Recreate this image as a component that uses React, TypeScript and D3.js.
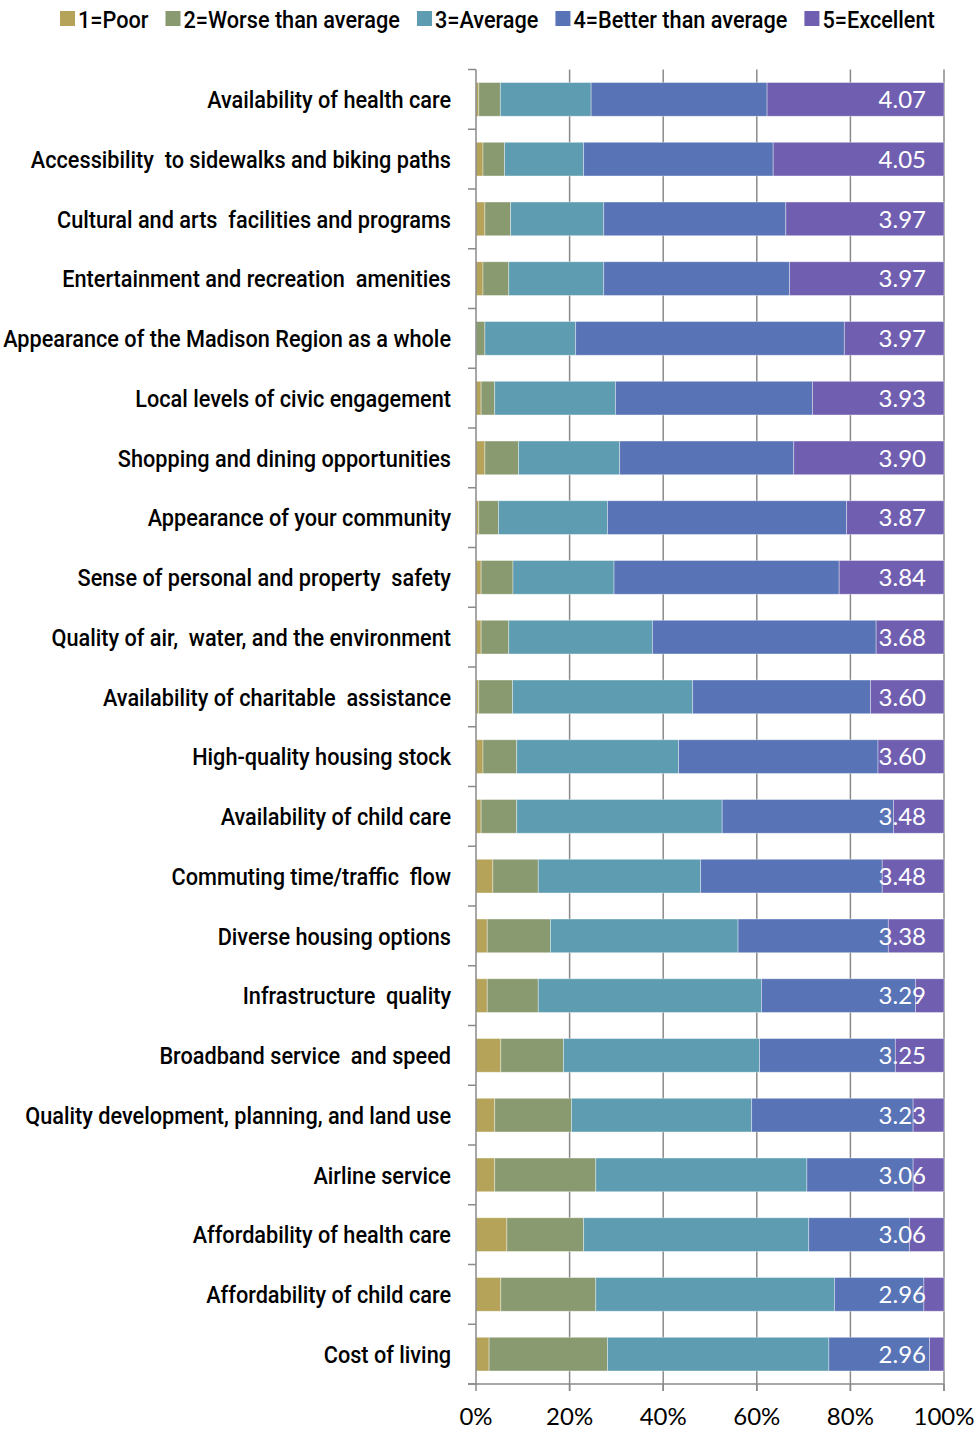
import React, { useEffect, useRef } from "react";
import * as d3 from "d3";

const categories = [
  "Availability of health care",
  "Accessibility  to sidewalks and biking paths",
  "Cultural and arts  facilities and programs",
  "Entertainment and recreation  amenities",
  "Appearance of the Madison Region as a whole",
  "Local levels of civic engagement",
  "Shopping and dining opportunities",
  "Appearance of your community",
  "Sense of personal and property  safety",
  "Quality of air,  water, and the environment",
  "Availability of charitable  assistance",
  "High-quality housing stock",
  "Availability of child care",
  "Commuting time/traffic  flow",
  "Diverse housing options",
  "Infrastructure  quality",
  "Broadband service  and speed",
  "Quality development, planning, and land use",
  "Airline service",
  "Affordability of health care",
  "Affordability of child care",
  "Cost of living",
];

const seriesNames = ["1=Poor", "2=Worse than average", "3=Average", "4=Better than average", "5=Excellent"];
const seriesColors = ["#B5A35A", "#8A9A70", "#5E9DB1", "#5874B6", "#705FB1"];

const poor = [0.6, 1.5, 1.9, 1.5, 0.0, 1.1, 1.9, 0.6, 1.1, 1.1, 0.6, 1.5, 1.1, 3.6, 2.4, 2.4, 5.3, 4.0, 4.0, 6.6, 5.3, 2.8];
const worse = [4.6, 4.6, 5.5, 5.5, 1.9, 2.9, 7.2, 4.2, 6.8, 5.9, 7.2, 7.2, 7.6, 9.7, 13.5, 10.9, 13.4, 16.4, 21.6, 16.4, 20.3, 25.3];
const average = [19.4, 16.9, 19.9, 20.3, 19.4, 25.8, 21.6, 23.3, 21.6, 30.7, 38.5, 34.6, 43.9, 34.7, 40.1, 47.7, 41.9, 38.5, 45.1, 48.1, 51.0, 47.3];
const better = [37.6, 40.5, 38.9, 39.7, 57.4, 42.1, 37.2, 51.1, 48.1, 47.8, 38.0, 42.6, 36.6, 38.8, 32.1, 32.9, 29.0, 34.5, 22.7, 21.5, 19.1, 21.5];
const excellent = [37.8, 36.5, 33.8, 33.0, 21.3, 28.1, 32.1, 20.8, 22.4, 14.5, 15.7, 14.1, 10.8, 13.2, 11.9, 6.1, 10.4, 6.6, 6.6, 7.4, 4.3, 3.1];
const meanScores = ["4.07", "4.05", "3.97", "3.97", "3.97", "3.93", "3.90", "3.87", "3.84", "3.68", "3.60", "3.60", "3.48", "3.48", "3.38", "3.29", "3.25", "3.23", "3.06", "3.06", "2.96", "2.96"];
const xTicks = [0, 20, 40, 60, 80, 100];

const W = 974;
const H = 1429;
const LABEL_FONT = "Roboto, 'DejaVu Sans', sans-serif";
const NUM_FONT = "Lato, 'Open Sans', sans-serif";
// width of the first category label in the reference, used to set the horizontal condensing of the label font
const REF_LABEL_WIDTH = 244;

export default function App() {
  const ref = useRef<SVGSVGElement | null>(null);

  useEffect(() => {
    const svg = d3.select(ref.current);
    svg.selectAll("*").remove();

    const left = 476, right = 944, top = 69.5, bottom = 1384;
    const x = d3.scaleLinear().domain([0, 100]).range([left, right]);
    const y = d3.scaleBand<string>().domain(categories).range([top, bottom]).paddingInner(0.436).paddingOuter(0.218);

    const table = categories.map((c, i) => {
      const vals = [poor[i], worse[i], average[i], better[i], excellent[i]];
      const sum = d3.sum(vals);
      const norm = vals.map(v => (v / sum) * 100);
      let acc = 0;
      return norm.map((v, k) => {
        const s = acc;
        acc += v;
        return { cat: c, k, x0: s, x1: acc };
      });
    });

    // gridlines
    const grid = svg.append("g");
    grid.selectAll("line").data(xTicks.filter(t => t > 0)).join("line")
      .attr("x1", d => x(d)).attr("x2", d => x(d))
      .attr("y1", top).attr("y2", bottom + 7)
      .attr("stroke", "#8a8a8a").attr("stroke-width", 1.5);

    // bars
    const bars = svg.append("g");
    table.forEach(row => {
      bars.selectAll(null).data(row.filter(s => s.x1 - s.x0 > 0.01)).join("rect")
        .attr("x", d => x(d.x0))
        .attr("width", d => x(d.x1) - x(d.x0))
        .attr("y", d => y(d.cat)!)
        .attr("height", y.bandwidth())
        .attr("fill", d => seriesColors[d.k])
        .attr("stroke", "rgba(255,255,255,0.45)")
        .attr("stroke-width", 0.8);
    });

    // value labels
    svg.append("g").selectAll("text").data(categories).join("text")
      .attr("x", right - 18)
      .attr("y", d => y(d)! + y.bandwidth() / 2)
      .attr("dy", "0.36em")
      .attr("text-anchor", "end")
      .attr("fill", "#ffffff")
      .style("font-family", NUM_FONT)
      .style("font-size", "24px")
      .text((d, i) => meanScores[i]);

    // y axis line and ticks
    const ax = svg.append("g");
    ax.append("line").attr("x1", left).attr("x2", left).attr("y1", top).attr("y2", bottom)
      .attr("stroke", "#8a8a8a").attr("stroke-width", 1.5);
    const bounds = categories.map(c => y(c)! - (y.step() - y.bandwidth()) / 2).concat([bottom]);
    ax.selectAll("line.tk").data(bounds).join("line").attr("class", "tk")
      .attr("x1", left - 8).attr("x2", left).attr("y1", d => d).attr("y2", d => d)
      .attr("stroke", "#8a8a8a").attr("stroke-width", 1.5);
    // x axis
    ax.append("line").attr("x1", left - 8).attr("x2", right).attr("y1", bottom).attr("y2", bottom)
      .attr("stroke", "#8a8a8a").attr("stroke-width", 1.5);
    ax.selectAll("line.xt").data(xTicks).join("line").attr("class", "xt")
      .attr("x1", d => x(d)).attr("x2", d => x(d)).attr("y1", bottom).attr("y2", bottom + 7)
      .attr("stroke", "#8a8a8a").attr("stroke-width", 1.5);
    ax.selectAll("text.xl").data(xTicks).join("text").attr("class", "xl")
      .attr("x", d => x(d)).attr("y", bottom + 41)
      .attr("text-anchor", "middle")
      .style("font-family", NUM_FONT).style("font-size", "24px").attr("fill", "#000")
      .text(d => d + "%");

    // category labels (condensed horizontally)
    const labelG = svg.append("g");
    const labels = labelG.selectAll("text").data(categories).join("text")
      .attr("x", 0).attr("y", 0)
      .attr("dy", "0.36em")
      .attr("text-anchor", "end")
      .style("font-family", LABEL_FONT)
      .style("font-size", "24.5px")
      .style("font-weight", 500)
      .style("white-space", "pre")
      .attr("fill", "#000")
      .text(d => d);
    const natural = (labels.node() as SVGTextElement).getComputedTextLength();
    const k = natural > 0 ? REF_LABEL_WIDTH / natural : 0.85;
    labels.attr("transform", d => `translate(${left - 25},${y(d)! + y.bandwidth() / 2}) scale(${k},1)`);

    // legend
    const lg = svg.append("g");
    let cx = 60;
    seriesNames.forEach((name, i) => {
      lg.append("rect").attr("x", cx).attr("y", 11).attr("width", 15).attr("height", 15).attr("fill", seriesColors[i]);
      const t = lg.append("text").attr("x", 0).attr("y", 0).attr("dy", "0.36em")
        .attr("transform", `translate(${cx + 18},19) scale(${k},1)`)
        .style("font-family", LABEL_FONT).style("font-size", "24.5px").style("font-weight", 500)
        .attr("fill", "#000").text(name);
      const w = (t.node() as SVGTextElement).getComputedTextLength() * k;
      cx += 18 + w + 17;
    });
  }, []);

  return (
    <svg ref={ref} width={W} height={H} style={{ position: "absolute", left: 0, top: 0, background: "#fff" }} />
  );
}
